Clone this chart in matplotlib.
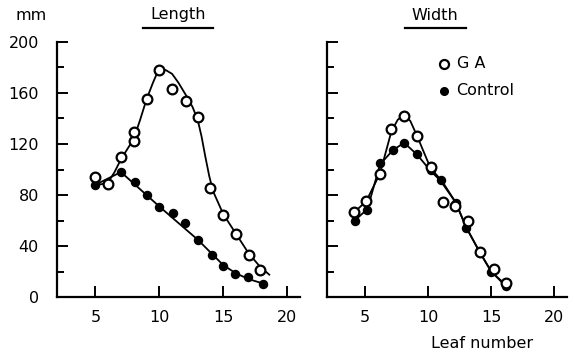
import matplotlib
matplotlib.use("Agg")
import matplotlib.pyplot as plt

# Length panel: measured points
len_ga_leaf = [5, 6, 7, 8, 8, 9, 10, 11, 12.1, 13, 14, 15, 16, 17, 17.9]
len_ga_mm = [94.5, 88.5, 109.5, 122.5, 129.5, 155, 178, 163.5, 154, 141.5, 85.5, 64, 49.5, 33, 21.5]
len_ct_leaf = [5, 7, 8.1, 9, 10, 11.1, 12, 13, 14.1, 15, 15.9, 16.9, 18.1]
len_ct_mm = [88, 98, 90, 80, 70.5, 66, 58, 44.5, 33, 24, 18, 15.5, 10.5]

# Length panel: fitted curves
len_ga_curve_x = [5, 5.5, 6, 6.5, 7, 7.5, 8, 8.5, 9, 9.5, 9.8, 10.1, 10.5, 11.0, 11.5,
                  12.1, 12.6, 13.0, 13.3, 13.6, 13.9, 14.2, 14.6, 15, 16, 17, 17.9, 18.6]
len_ga_curve_y = [88, 88.5, 90, 98, 108, 116, 124, 139, 155, 168, 175, 178.5, 178, 175, 168,
                  158, 149, 139, 126, 110, 95, 83, 74, 65, 49.5, 34, 23.5, 17.5]
len_ct_curve_x = [5, 6, 7, 10, 13, 15, 16, 17, 18.3]
len_ct_curve_y = [88, 93, 98, 71, 45, 25, 18.5, 14, 10]

# Width panel: measured points
wid_ga_leaf = [4.1, 5.1, 6.2, 7.1, 8.1, 9.1, 10.2, 11.2, 12.1, 13.2, 14.1, 15.2, 16.2]
wid_ga_mm = [66.5, 75, 96.5, 131.5, 142, 126.5, 102, 74.5, 71, 59.5, 35, 22, 11]
wid_ct_leaf = [4.2, 5.2, 6.2, 7.2, 8.1, 9.1, 10.2, 11.0, 12.2, 13.0, 14.1, 15.0, 16.2]
wid_ct_mm = [60, 68.5, 105, 115, 121, 112, 99.5, 92, 74, 54, 35, 19.5, 9]

# Width panel: curves
wid_ga_curve_x = [4.1, 5.1, 6.2, 7.1, 7.6, 8.1, 8.6, 9.1, 10.2, 11.1, 12.2, 13.0, 14.1, 15.0, 16.2]
wid_ga_curve_y = [66, 75, 97, 130, 139, 143, 138, 127, 101, 91, 74, 55, 35, 20, 9]
wid_ct_curve_x = wid_ct_leaf
wid_ct_curve_y = [60, 69, 104, 115, 121, 112, 99, 91, 74, 55, 35, 20, 8]

y_major = [0, 40, 80, 120, 160, 200]
y_minor = [20, 60, 100, 140, 180]
x_major = [5, 10, 15, 20]

plt.rcParams['font.family'] = ['DejaVu Sans']

fig = plt.figure(figsize=(5.73, 3.56), dpi=100)
ax1 = fig.add_axes([57 / 573, 59 / 356, 243 / 573, 255 / 356])
ax2 = fig.add_axes([327 / 573, 59 / 356, 240 / 573, 255 / 356])


def style(ax, labels):
    ax.set_xlim(2.0, 21.0)
    ax.set_ylim(0, 200)
    for s in ['top', 'right']:
        ax.spines[s].set_visible(False)
    for s in ['left', 'bottom']:
        ax.spines[s].set_linewidth(1.6)
    ax.set_xticks(x_major)
    ax.set_yticks(y_major)
    ax.set_yticks(y_minor, minor=True)
    ax.tick_params(axis='both', which='major', direction='in', length=8, width=1.4,
                   labelsize=11.5, pad=9)
    ax.tick_params(axis='y', which='minor', direction='in', length=5, width=1.4)
    ax.tick_params(axis='y', pad=13)
    if not labels:
        ax.tick_params(axis='y', labelleft=False)


def draw(ax, cx, cy, px, py, filled):
    ax.plot(cx, cy, color='black', lw=1.3, zorder=2, solid_joinstyle='round')
    if filled:
        ax.plot(px, py, 'o', color='black', ms=5.8, zorder=3)
    else:
        ax.plot(px, py, 'o', mfc='white', mec='black', mew=1.6, ms=7, zorder=4)


style(ax1, True)
style(ax2, False)

draw(ax1, len_ga_curve_x, len_ga_curve_y, len_ga_leaf, len_ga_mm, False)
draw(ax1, len_ct_curve_x, len_ct_curve_y, len_ct_leaf, len_ct_mm, True)
draw(ax2, wid_ga_curve_x, wid_ga_curve_y, wid_ga_leaf, wid_ga_mm, False)
draw(ax2, wid_ct_curve_x, wid_ct_curve_y, wid_ct_leaf, wid_ct_mm, True)

# Legend
ax2.plot([0.4875], [0.914], 'o', mfc='white', mec='black', mew=1.6, ms=6.5,
         transform=ax2.transAxes, clip_on=False)
ax2.plot([0.4875], [0.808], 'o', color='black', ms=5.5,
         transform=ax2.transAxes, clip_on=False)
ax2.text(0.54, 0.914, 'G A', transform=ax2.transAxes, fontsize=11.5, va='center')
ax2.text(0.54, 0.808, 'Control', transform=ax2.transAxes, fontsize=11.5, va='center')

# Titles and labels
fig.text(31 / 573, 1 - 15 / 356, 'mm', fontsize=11.5, ha='center', va='center')
fig.text(178 / 573, 1 - 15 / 356, 'Length', fontsize=11.5, ha='center', va='center')
fig.add_artist(plt.Line2D([143 / 573, 213 / 573], [1 - 28 / 356, 1 - 28 / 356],
                          color='black', lw=1.6))
fig.text(435 / 573, 1 - 15 / 356, 'Width', fontsize=11.5, ha='center', va='center')
fig.add_artist(plt.Line2D([405 / 573, 466 / 573], [1 - 28 / 356, 1 - 28 / 356],
                          color='black', lw=1.6))
fig.text(482 / 573, 1 - 344 / 356, 'Leaf number', fontsize=11.5, ha='center', va='center')

fig.savefig('out.png', dpi=100)
